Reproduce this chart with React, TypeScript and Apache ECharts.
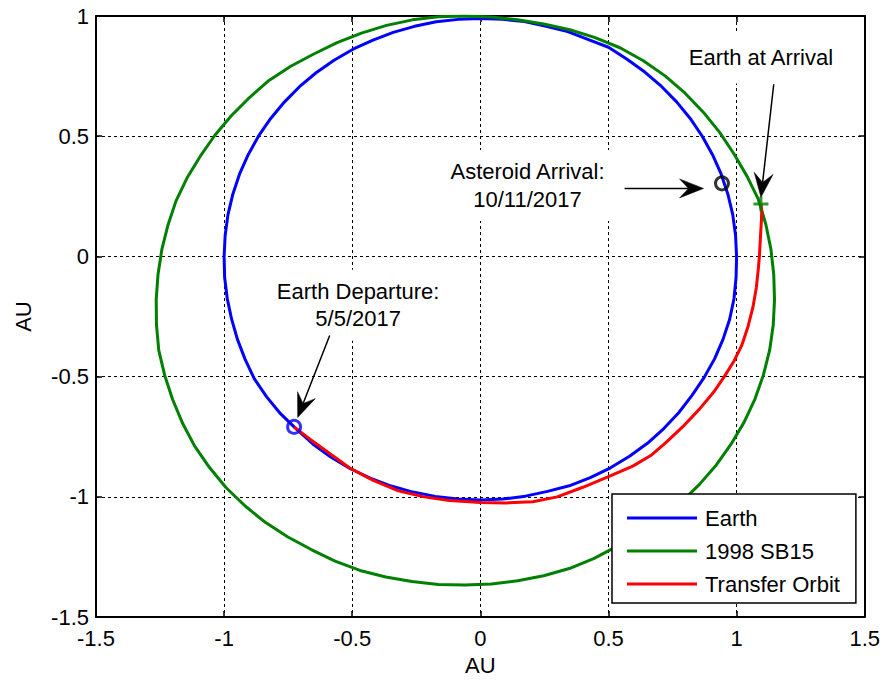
import React, { useEffect, useRef } from "react";
import * as echarts from "echarts";

// ---- data (AU) ----
const earthOrbit: [number, number][] = [
  [1.0, 0.0], [0.996, 0.087], [0.985, 0.174], [0.966, 0.259], [0.94, 0.342], [0.906, 0.423],
  [0.866, 0.5], [0.819, 0.574], [0.766, 0.643], [0.707, 0.707], [0.643, 0.766], [0.574, 0.819],
  [0.5, 0.87], [0.422, 0.902], [0.341, 0.935], [0.257, 0.957], [0.172, 0.977], [0.086, 0.986],
  [0.0, 0.99], [-0.086, 0.986], [-0.172, 0.976], [-0.257, 0.957], [-0.34, 0.932], [-0.419, 0.9],
  [-0.497, 0.862], [-0.571, 0.816], [-0.641, 0.764], [-0.706, 0.706], [-0.765, 0.642], [-0.819, 0.573],
  [-0.866, 0.5], [-0.906, 0.423], [-0.94, 0.342], [-0.966, 0.259], [-0.985, 0.174], [-0.996, 0.087],
  [-1.0, 0.0], [-0.998, -0.087], [-0.988, -0.174], [-0.971, -0.26], [-0.948, -0.345], [-0.918, -0.428],
  [-0.882, -0.509], [-0.834, -0.584], [-0.78, -0.654], [-0.727, -0.709], [-0.654, -0.78], [-0.584, -0.834],
  [-0.509, -0.882], [-0.43, -0.922], [-0.348, -0.955], [-0.263, -0.98], [-0.176, -0.998], [-0.088, -1.009],
  [0.0, -1.013], [0.088, -1.009], [0.176, -0.997], [0.262, -0.977], [0.347, -0.954], [0.429, -0.92],
  [0.508, -0.879], [0.582, -0.831], [0.652, -0.777], [0.716, -0.716], [0.774, -0.65], [0.826, -0.578],
  [0.873, -0.504], [0.914, -0.426], [0.947, -0.345], [0.973, -0.261], [0.99, -0.175], [0.998, -0.087],
  [1.0, 0.0],
];

const asteroidOrbit: [number, number][] = [
  [1.148, -0.18], [1.145, -0.075], [1.134, 0.03], [1.114, 0.134], [1.085, 0.237], [1.041, 0.333],
  [0.99, 0.426], [0.934, 0.516], [0.87, 0.6], [0.799, 0.679], [0.721, 0.751], [0.636, 0.814],
  [0.545, 0.868], [0.448, 0.91], [0.349, 0.943], [0.247, 0.967], [0.145, 0.984], [0.043, 0.996],
  [-0.06, 1.0], [-0.163, 0.997], [-0.265, 0.984], [-0.366, 0.961], [-0.464, 0.929], [-0.559, 0.889],
  [-0.65, 0.842], [-0.74, 0.791], [-0.825, 0.732], [-0.901, 0.661], [-0.972, 0.585], [-1.036, 0.504],
  [-1.093, 0.417], [-1.145, 0.326], [-1.188, 0.23], [-1.219, 0.131], [-1.243, 0.029], [-1.258, -0.075],
  [-1.265, -0.18], [-1.264, -0.285], [-1.255, -0.391], [-1.232, -0.494], [-1.201, -0.595], [-1.162, -0.694],
  [-1.115, -0.789], [-1.057, -0.878], [-0.992, -0.962], [-0.918, -1.038], [-0.838, -1.107], [-0.751, -1.167],
  [-0.66, -1.219], [-0.567, -1.267], [-0.47, -1.306], [-0.369, -1.333], [-0.267, -1.352], [-0.164, -1.364],
  [-0.06, -1.366], [0.043, -1.362], [0.146, -1.349], [0.247, -1.328], [0.347, -1.298], [0.442, -1.257],
  [0.533, -1.206], [0.621, -1.153], [0.705, -1.092], [0.783, -1.023], [0.855, -0.948], [0.921, -0.867],
  [0.979, -0.78], [1.03, -0.688], [1.072, -0.592], [1.105, -0.492], [1.129, -0.39], [1.143, -0.285],
  [1.148, -0.18],
];

const transferOrbit: [number, number][] = [
  [-0.727, -0.709], [-0.665, -0.76], [-0.6, -0.81], [-0.51, -0.88], [-0.42, -0.93], [-0.32, -0.975],
  [-0.22, -1.0], [-0.12, -1.015], [0.0, -1.023], [0.1, -1.025], [0.205, -1.02], [0.3, -1.0],
  [0.4, -0.96], [0.5, -0.916], [0.595, -0.872], [0.665, -0.828], [0.725, -0.773], [0.79, -0.708],
  [0.855, -0.635], [0.91, -0.565], [0.952, -0.5], [0.99, -0.435], [1.02, -0.37], [1.045, -0.29],
  [1.064, -0.21], [1.077, -0.13], [1.085, -0.05], [1.089, 0.0], [1.093, 0.08], [1.097, 0.15],
  [1.098, 0.19], [1.095, 0.218],
];

const departurePoint: [number, number][] = [[-0.727, -0.709]];
const asteroidArrivalPoint: [number, number][] = [[0.943, 0.304]];
const earthArrivalPoint: [number, number][] = [[1.095, 0.218]];

const seriesNames = ["Earth", "1998 SB15", "Transfer Orbit"];

const annotationTexts = [
  { text: "Earth at Arrival", at: [1.095, 0.826] },
  { text: "Asteroid Arrival:\n10/11/2017", at: [0.184, 0.295] },
  { text: "Earth Departure:\n5/5/2017", at: [-0.477, -0.203] },
];

const annotationArrows = [
  { from: [1.145, 0.716], to: [1.095, 0.246] },
  { from: [0.563, 0.283], to: [0.871, 0.283] },
  { from: [-0.588, -0.329], to: [-0.713, -0.67] },
];

const FONT = "'Liberation Sans', Arial, Helvetica, sans-serif";

export default function App() {
  const ref = useRef<HTMLDivElement>(null);

  useEffect(() => {
    if (!ref.current) return;
    const chart = echarts.init(ref.current, null, { renderer: "svg" });

    const axisCommon = {
      type: "value" as const,
      interval: 0.5,
      axisLine: { show: true, onZero: false, lineStyle: { color: "#000", width: 2 } },
      axisTick: { show: true, inside: true, length: 6, lineStyle: { color: "#000", width: 1.5 } },
    };

    const option: any = {
      animation: false,
      backgroundColor: "#fff",
      textStyle: { fontFamily: FONT },
      grid: { left: 96, top: 16, width: 770, height: 606, containLabel: false },
      xAxis: [
        {
          ...axisCommon,
          position: "bottom",
          min: -1.5,
          max: 1.5,
          name: "AU",
          nameLocation: "middle",
          nameGap: 36,
          nameTextStyle: { color: "#000", fontSize: 22, fontFamily: FONT },
          axisLabel: { color: "#000", fontSize: 22, fontFamily: FONT, margin: 10 },
          splitLine: { show: true, lineStyle: { color: "#000", width: 1, type: [3, 3] } },
        },
        {
          ...axisCommon,
          position: "top",
          min: -1.5,
          max: 1.5,
          axisLabel: { show: false },
          splitLine: { show: false },
        },
      ],
      yAxis: [
        {
          ...axisCommon,
          position: "left",
          min: -1.5,
          max: 1,
          name: "AU",
          nameLocation: "middle",
          nameRotate: 90,
          nameGap: 62,
          nameTextStyle: { color: "#000", fontSize: 22, fontFamily: FONT },
          axisLabel: { color: "#000", fontSize: 22, fontFamily: FONT, margin: 7 },
          splitLine: { show: true, lineStyle: { color: "#000", width: 1, type: [3, 3] } },
        },
        {
          ...axisCommon,
          position: "right",
          min: -1.5,
          max: 1,
          axisLabel: { show: false },
          splitLine: { show: false },
        },
      ],
      legend: {
        data: seriesNames,
        orient: "vertical",
        left: 612,
        top: 494,
        padding: [13, 16, 8, 15],
        itemGap: 11,
        itemWidth: 70,
        itemHeight: 3,
        icon: "rect",
        backgroundColor: "#fff",
        borderColor: "#000",
        borderWidth: 1.5,
        borderRadius: 0,
        textStyle: { color: "#000", fontSize: 22, fontFamily: FONT, lineHeight: 22, padding: [0, 0, 0, 3] },
        z: 20,
      },
      series: [
        {
          name: seriesNames[0],
          type: "line",
          data: earthOrbit,
          symbol: "none",
          lineStyle: { color: "#0000FF", width: 3 },
          itemStyle: { color: "#0000FF" },
          z: 2,
        },
        {
          name: seriesNames[1],
          type: "line",
          data: asteroidOrbit,
          symbol: "none",
          lineStyle: { color: "#008000", width: 3 },
          itemStyle: { color: "#008000" },
          z: 3,
        },
        {
          name: seriesNames[2],
          type: "line",
          data: transferOrbit,
          symbol: "none",
          lineStyle: { color: "#FF0000", width: 3 },
          itemStyle: { color: "#FF0000" },
          z: 4,
        },
        {
          name: "departure",
          type: "scatter",
          data: departurePoint,
          symbol: "circle",
          symbolSize: 13,
          itemStyle: { color: "transparent", borderColor: "#0000FF", borderWidth: 3 },
          z: 5,
        },
        {
          name: "asteroidArrival",
          type: "scatter",
          data: asteroidArrivalPoint,
          symbol: "circle",
          symbolSize: 13,
          itemStyle: { color: "transparent", borderColor: "#000", borderWidth: 3 },
          z: 5,
        },
        {
          name: "earthArrival",
          type: "scatter",
          data: earthArrivalPoint,
          symbol: "path://M0,4L10,4L10,6L0,6ZM4,0L6,0L6,10L4,10Z",
          symbolSize: 15,
          itemStyle: { color: "#008000" },
          z: 5,
        },
      ],
    };

    chart.setOption(option);

    const toPx = (p: number[]) => chart.convertToPixel({ gridIndex: 0 }, p) as number[];
    const graphics: any[] = [];

    annotationTexts.forEach((a) => {
      const [x, y] = toPx(a.at);
      const multi = a.text.indexOf("\n") >= 0;
      graphics.push({
        type: "text",
        x,
        y,
        z: 100,
        style: {
          text: a.text,
          fill: "#000",
          fontSize: 22,
          fontFamily: FONT,
          align: "center",
          verticalAlign: "middle",
          lineHeight: 27.5,
          backgroundColor: "#fff",
          padding: multi ? [8, 7] : [12, 4],
        },
      });
    });

    annotationArrows.forEach((a) => {
      const [x1, y1] = toPx(a.from);
      const [x2, y2] = toPx(a.to);
      const dx = x2 - x1;
      const dy = y2 - y1;
      const len = Math.sqrt(dx * dx + dy * dy);
      const ux = dx / len;
      const uy = dy / len;
      const nx = -uy;
      const ny = ux;
      const L = 24;
      const W = 9.5;
      const N = 15;
      graphics.push({
        type: "line",
        z: 101,
        shape: { x1, y1, x2: x2 - ux * N, y2: y2 - uy * N },
        style: { stroke: "#000", lineWidth: 1.5 },
      });
      graphics.push({
        type: "polygon",
        z: 101,
        shape: {
          points: [
            [x2, y2],
            [x2 - ux * L + nx * W, y2 - uy * L + ny * W],
            [x2 - ux * N, y2 - uy * N],
            [x2 - ux * L - nx * W, y2 - uy * L - ny * W],
          ],
        },
        style: { fill: "#000", stroke: "#000", lineWidth: 0.5 },
      });
    });

    chart.setOption({ graphic: graphics });

    return () => {
      chart.dispose();
    };
  }, []);

  return (
    <div
      ref={ref}
      style={{ position: "absolute", left: 0, top: 0, width: 883, height: 681, background: "#fff" }}
    />
  );
}
